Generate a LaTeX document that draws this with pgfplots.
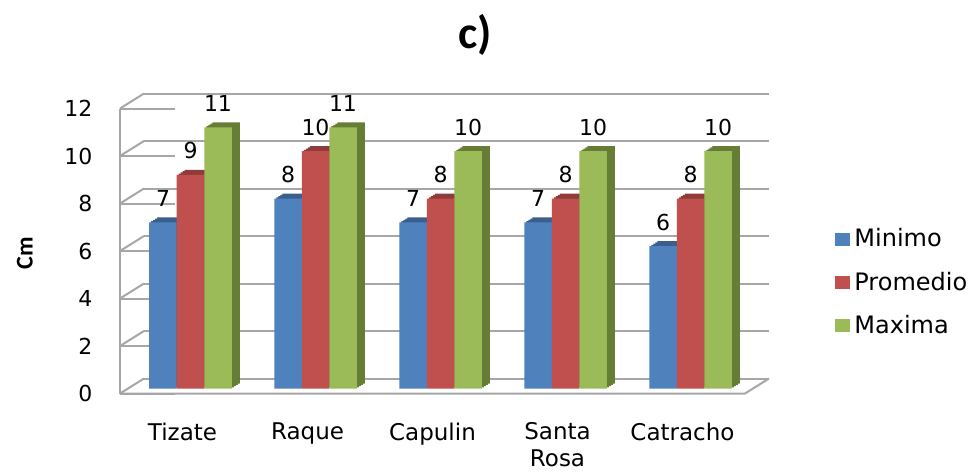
\documentclass[border=0pt]{standalone}
\usepackage{pgfplots}
\pgfplotsset{compat=1.18}
\usepackage{pgfplotstable}
\usepackage{fontspec}
\setmainfont{DejaVu Sans}
\newfontfamily\calibri{Carlito}
\pgfkeys{/pgf/number format/assume math mode=true}
\definecolor{cblue}{HTML}{4F81BD}
\definecolor{cred}{HTML}{C0504D}
\definecolor{cgreen}{HTML}{9BBB59}
\definecolor{dblue}{HTML}{3A5F8E}
\definecolor{dred}{HTML}{8E3B39}
\definecolor{dgreen}{HTML}{667D35}
\definecolor{gridc}{HTML}{A6A6A6}
\pgfplotstableread{
x  mn pr mx
0  7  9  11
1  8  10 11
2  7  8  10
3  7  8  10
4  6  8  10
}\datatable
\newcommand{\shadowbars}[3]{%
  \addplot[ybar, bar width=13.75pt, bar shift=#2, fill=#3, draw=none, forget plot, xshift=1pt, yshift=0.625pt] table[x=x,y=#1]{\datatable};
  \addplot[ybar, bar width=13.75pt, bar shift=#2, fill=#3, draw=none, forget plot, xshift=2pt, yshift=1.25pt] table[x=x,y=#1]{\datatable};
  \addplot[ybar, bar width=13.75pt, bar shift=#2, fill=#3, draw=none, forget plot, xshift=3pt, yshift=1.875pt] table[x=x,y=#1]{\datatable};
  \addplot[ybar, bar width=13.75pt, bar shift=#2, fill=#3, draw=none, forget plot, xshift=4pt, yshift=2.5pt] table[x=x,y=#1]{\datatable};
}
\pgfplotsset{
  mainbar/.style={ybar, bar width=13.75pt, bar shift=#1, draw=none,
    nodes near coords,
    every node near coord/.append style={font=\fontsize{11}{13}\selectfont, text=black, xshift=#1, yshift=4.3pt},
    legend image code/.code={\fill[##1] (0pt,-3.25pt) rectangle (7.5pt,3.25pt);}},
}
\begin{document}
\begin{tikzpicture}
\useasboundingbox (-64pt,-42.25pt) rectangle (422.5pt,194.25pt);
\begin{axis}[
  at={(0,0)}, anchor=south west, scale only axis,
  width=312.5pt, height=142.5pt,
  xmin=-0.5, xmax=4.5, ymin=0, ymax=12,
  xtick={0,...,4}, xticklabels={Tizate,Raque,Capulin,Santa\\Rosa,Catracho},
  xticklabel style={align=center, anchor=north, xshift=-4pt, yshift=-13.5pt, font=\fontsize{11.5}{13.5}\selectfont},
  ytick={0,2,...,12},
  yticklabel style={font=\fontsize{11}{13}\selectfont, xshift=-14.3pt, yshift=-2.5pt},
  axis line style={draw=none},
  tick style={draw=none},
  ymajorgrids, major grid style={gridc, line width=1pt, xshift=8pt, yshift=5pt},
  ylabel={\calibri\bfseries Cm},
  ylabel style={at={(axis description cs:-0.165,0.474)}, anchor=center, font=\fontsize{12}{14}\selectfont},
  title={\calibri\bfseries c)},
  title style={at={(rel axis cs:0,0)}, anchor=center, xshift=173.5pt, yshift=171pt, font=\fontsize{23}{26}\selectfont},
  legend style={at={(axis description cs:1.128,0.372)}, anchor=west, draw=none, fill=none,
    font=\fontsize{12}{13}\selectfont, row sep=7pt, inner sep=1pt},
  legend cell align=left,
  clip=false,
]
\pgfplotsinvokeforeach{0,2,...,12}{
  \draw[gridc, line width=1pt] ([xshift=-4pt,yshift=-2.5pt]axis cs:-0.5,#1) -- ([xshift=8pt,yshift=5pt]axis cs:-0.5,#1);
  \draw[gridc, line width=1pt] ([xshift=-4pt,yshift=-2.5pt]axis cs:-0.5,#1) -- ++(-3.5pt,0);
}
\draw[gridc, line width=1pt] ([xshift=-4pt,yshift=-2.5pt]axis cs:-0.5,0) -- ([xshift=-4pt,yshift=-2.5pt]axis cs:-0.5,12);
\draw[gridc, line width=1pt] ([xshift=-4pt,yshift=-2.5pt]axis cs:-0.5,0) -- ([xshift=-4pt,yshift=-2.5pt]axis cs:4.5,0) -- ([xshift=8pt,yshift=5pt]axis cs:4.5,0);

\shadowbars{mn}{-13.75pt}{dblue}
\addplot[mainbar=-13.75pt, fill=cblue] table[x=x,y=mn]{\datatable};
\addlegendentry{Minimo}
\shadowbars{pr}{0pt}{dred}
\addplot[mainbar=0pt, fill=cred] table[x=x,y=pr]{\datatable};
\addlegendentry{Promedio}
\shadowbars{mx}{13.75pt}{dgreen}
\addplot[mainbar=13.75pt, fill=cgreen] table[x=x,y=mx]{\datatable};
\addlegendentry{Maxima}
\end{axis}
\end{tikzpicture}
\end{document}
